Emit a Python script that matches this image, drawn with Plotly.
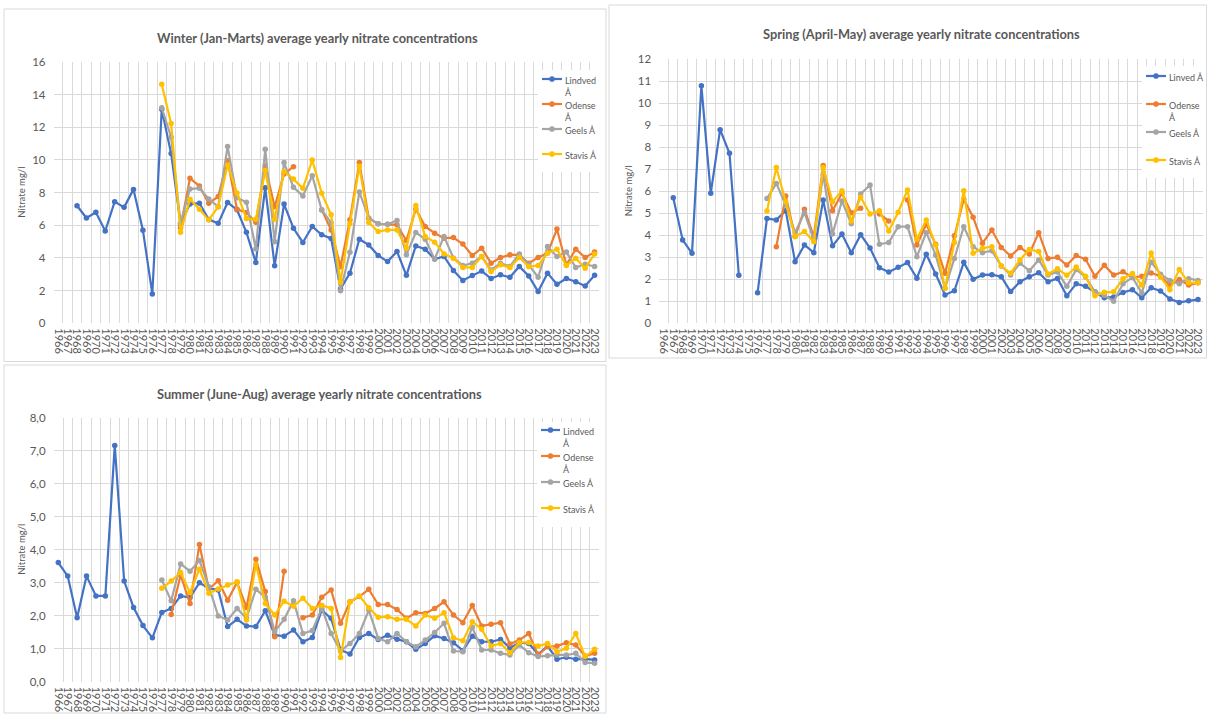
import plotly.graph_objects as go

W, H = 1208, 715
years = list(range(1966, 2024))
N = None

# ---------------- Winter (Jan-Marts) ----------------
winter_lindved = [N, N, 7.2, 6.45, 6.8, 5.65, 7.45, 7.1, 8.2, 5.7,
                  1.8, 13.1, 10.4, 6.1, 7.3, 7.35, 6.35, 6.12, 7.4, 6.95,
                  5.57, 3.73, 8.3, 3.53, 7.3, 5.82, 4.95, 5.93, 5.42, 5.2,
                  2.1, 3.07, 5.15, 4.8, 4.15, 3.78, 4.4, 2.94, 4.74, 4.54,
                  3.93, 4.09, 3.23, 2.62, 2.92, 3.2, 2.74, 2.97, 2.82, 3.48,
                  2.9, 1.94, 3.07, 2.39, 2.74, 2.54, 2.29, 2.94]
winter_odense = [N, N, N, N, N, N, N, N, N, N,
                 N, N, N, 5.85, 8.88, 8.41, 7.35, 7.76, 9.96, 6.98,
                 6.78, 6.18, 9.63, 7.14, 9.14, 9.59, N, N, 6.95, 5.72,
                 3.47, 6.34, 9.85, 6.44, 6.09, 6.07, 6.03, 5.07, 6.99, 5.93,
                 5.52, 5.21, 5.25, 4.85, 4.15, 4.6, 3.68, 4.03, 4.19, 4.19,
                 3.68, 4.03, 4.3, 5.77, 3.58, 4.54, 4.03, 4.36]
winter_geels = [N, N, N, N, N, N, N, N, N, N,
                N, 13.2, 11.39, 6.12, 8.22, 8.27, 7.61, 7.14, 10.82, 7.69,
                7.41, 4.55, 10.65, 5.0, 9.84, 8.33, 7.8, 9.04, 6.94, 6.16,
                2.0, 4.35, 8.04, 6.44, 6.09, 6.07, 6.3, 4.19, 5.56, 5.15,
                3.93, 5.32, 3.99, 3.54, 3.68, 4.09, 3.27, 3.68, 3.48, 4.25,
                3.58, 2.82, 4.7, 4.09, 4.36, 3.42, 3.62, 3.48]
winter_stavis = [N, N, N, N, N, N, N, N, N, N,
                 N, 14.63, 12.24, 5.57, 7.59, 6.98, 6.33, 7.14, 9.69, 7.98,
                 6.41, 6.37, 9.35, 6.37, 9.3, 8.83, 8.27, 10.0, 7.97, 6.64,
                 2.52, 6.09, 9.61, 6.17, 5.62, 5.72, 5.72, 4.6, 7.21, 5.32,
                 4.97, 4.25, 3.99, 3.42, 3.42, 4.09, 3.17, 3.58, 3.42, 4.03,
                 3.48, 3.54, 4.3, 4.54, 3.54, 3.99, 3.37, 4.25]

# ---------------- Spring (April-May) ----------------
spring_lindved = [N, 5.71, 3.79, 3.18, 10.8, 5.91, 8.8, 7.73, 2.18, N,
                  1.39, 4.76, 4.7, 5.12, 2.8, 3.56, 3.21, 5.6, 3.52, 4.06,
                  3.21, 4.03, 3.42, 2.53, 2.33, 2.55, 2.76, 2.05, 3.14, 2.24,
                  1.29, 1.48, 2.77, 2.0, 2.2, 2.21, 2.12, 1.44, 1.89, 2.12,
                  2.3, 1.89, 2.04, 1.25, 1.8, 1.68, 1.43, 1.16, 1.2, 1.4,
                  1.53, 1.16, 1.62, 1.47, 1.1, 0.95, 1.02, 1.08]
spring_odense = [N, N, N, N, N, N, N, N, N, N,
                 N, N, 3.48, 5.79, 3.94, 5.18, 3.94, 7.17, 5.12, 5.91,
                 5.03, 5.23, N, 4.97, 4.65, N, 5.61, 3.56, 4.5, 3.59,
                 2.27, 3.98, 5.64, 4.82, 3.64, 4.24, 3.45, 3.06, 3.45, 3.15,
                 4.12, 2.95, 3.0, 2.65, 3.08, 2.91, 2.14, 2.64, 2.19, 2.34,
                 2.08, 2.14, 2.29, 2.14, 1.74, 1.99, 1.74, 1.84]
spring_geels = [N, N, N, N, N, N, N, N, N, N,
                N, 5.67, 6.36, 5.38, 4.12, 5.03, 3.79, 6.77, 4.06, 5.56,
                4.52, 5.88, 6.29, 3.59, 3.67, 4.39, 4.39, 3.03, 4.12, 3.11,
                1.59, 2.95, 4.39, 3.48, 3.21, 3.3, 2.61, 2.2, 2.73, 2.39,
                2.88, 2.2, 2.33, 1.68, 2.44, 2.11, 1.43, 1.28, 1.0, 1.8,
                2.08, 1.38, 2.78, 2.23, 1.95, 1.8, 2.03, 1.95]
spring_stavis = [N, N, N, N, N, N, N, N, N, N,
                 N, 5.11, 7.08, 5.53, 3.94, 4.17, 3.71, 7.08, 5.53, 6.02,
                 4.65, 5.73, 4.97, 5.12, 4.2, 5.05, 6.06, 3.82, 4.7, 3.56,
                 1.59, 3.67, 6.03, 3.18, 3.41, 3.48, 2.61, 2.27, 2.88, 3.36,
                 3.26, 2.24, 2.48, 2.18, 2.56, 2.14, 1.25, 1.41, 1.43, 2.03,
                 2.26, 1.74, 3.19, 2.11, 1.53, 2.44, 1.84, 1.84]

# ---------------- Summer (June-Aug) ----------------
summer_lindved = [3.61, 3.2, 1.94, 3.2, 2.6, 2.6, 7.16, 3.05, 2.25, 1.7,
                  1.33, 2.1, 2.22, 2.6, 2.55, 3.0, 2.83, 2.78, 1.67, 1.89,
                  1.69, 1.67, 2.15, 1.41, 1.38, 1.57, 1.21, 1.34, 2.17, 1.92,
                  0.96, 0.84, 1.34, 1.46, 1.28, 1.41, 1.29, 1.21, 0.98, 1.16,
                  1.39, 1.31, 1.18, 0.94, 1.38, 1.21, 1.21, 1.28, 1.03, 1.18,
                  1.16, 0.83, 1.08, 0.68, 0.74, 0.68, 0.69, 0.66]
summer_odense = [N, N, N, N, N, N, N, N, N, N,
                 N, N, 2.04, 3.23, 2.37, 4.16, 2.81, 3.06, 2.47, 3.01,
                 2.25, 3.71, 2.73, 1.36, 3.35, N, 1.94, 2.02, 2.56, 2.78,
                 1.77, 2.42, 2.58, 2.8, 2.34, 2.34, 2.19, 1.92, 2.09, 2.07,
                 2.22, 2.42, 2.02, 1.79, 2.31, 1.69, 1.74, 1.79, 1.14, 1.26,
                 1.46, 0.81, 1.06, 1.08, 1.18, 1.11, 0.78, 0.86]
summer_geels = [N, N, N, N, N, N, N, N, N, N,
                N, 3.08, 2.45, 3.57, 3.35, 3.67, 2.88, 1.99, 1.87, 2.22,
                1.92, 2.8, 2.56, 1.52, 1.89, 2.45, 1.46, 1.55, 2.22, 1.46,
                0.93, 1.16, 1.46, 2.17, 1.31, 1.21, 1.46, 1.21, 1.06, 1.26,
                1.49, 1.77, 0.93, 0.91, 1.65, 0.96, 0.96, 0.86, 0.81, 1.11,
                0.88, 0.76, 0.79, 0.81, 0.81, 0.86, 0.58, 0.56]
summer_stavis = [N, N, N, N, N, N, N, N, N, N,
                 N, 2.83, 3.05, 3.31, 2.7, 3.41, 2.68, 2.81, 2.93, 3.03,
                 1.87, 3.56, 2.37, 2.02, 2.44, 2.29, 2.53, 2.22, 2.32, 2.22,
                 0.73, 2.42, 2.6, 2.24, 1.95, 1.97, 1.89, 1.89, 1.69, 2.02,
                 1.92, 2.09, 1.33, 1.24, 1.82, 1.59, 1.08, 1.16, 0.88, 1.19,
                 1.19, 1.08, 1.16, 0.91, 1.01, 1.46, 0.76, 0.98]

winter_names = ["Lindved<br>Å", "Odense<br>Å", "Geels Å", "Stavis Å"]
spring_names = ["Linved Å", "Odense<br>Å", "Geels Å", "Stavis Å"]
summer_names = ["Lindved<br>Å", "Odense<br>Å", "Geels Å", "Stavis Å"]

winter_ticks = [0, 2, 4, 6, 8, 10, 12, 14, 16]
spring_ticks = list(range(0, 13))
summer_ticks = [0, 1, 2, 3, 4, 5, 6, 7, 8]
summer_ticktext = ["0,0", "1,0", "2,0", "3,0", "4,0", "5,0", "6,0", "7,0", "8,0"]

titles = ["Winter (Jan-Marts) average yearly nitrate concentrations",
          "Spring (April-May) average yearly nitrate concentrations",
          "Summer (June-Aug) average yearly nitrate concentrations"]
ytitle = "Nitrate mg/l"

colors = ["#4472C4", "#ED7D31", "#A5A5A5", "#FFC000"]
TXT = "#595959"
GRID = "#D9D9D9"
FONT = "Lato"

def px(x):
    return x / W

def py(y):
    return 1 - y / H

fig = go.Figure()

panels = [
    dict(ax="", series=[winter_lindved, winter_odense, winter_geels, winter_stavis],
         names=winter_names, xdom=(53.5, 599.3), ydom=(62, 323.3),
         ticks=winter_ticks, ticktext=[str(t) for t in winter_ticks], yr=[0, 16],
         title=titles[0], tx=317, ty=37.5, ytx=22,
         box=(538, 70, 600, 172), lx=(542, 562), tx0=563, rows=[79, 104, 129, 154],
         border=(4, 9, 606, 361.5)),
    dict(ax="2", series=[spring_lindved, spring_odense, spring_geels, spring_stavis],
         names=spring_names, xdom=(659.2, 1202.7), ydom=(59.3, 323.3),
         ticks=spring_ticks, ticktext=[str(t) for t in spring_ticks], yr=[0, 12],
         title=titles[1], tx=921, ty=34, ytx=628,
         box=(1142, 66, 1205, 178), lx=(1146, 1166), tx0=1167, rows=[76, 104, 132, 160],
         border=(609, 5, 1206.5, 358)),
    dict(ax="3", series=[summer_lindved, summer_odense, summer_geels, summer_stavis],
         names=summer_names, xdom=(53.6, 599.3), ydom=(417.7, 681.7),
         ticks=summer_ticks, ticktext=summer_ticktext, yr=[0, 8],
         title=titles[2], tx=319, ty=393.5, ytx=22,
         box=(537, 422, 599, 527), lx=(541, 560), tx0=561, rows=[430, 456, 482, 508],
         border=(4, 365, 606, 713)),
]

shapes = []
annotations = []
minor_vals = [y - 0.5 for y in years] + [years[-1] + 0.5]

for p in panels:
    ax = p["ax"]
    xa = "x" + ax
    ya = "y" + ax
    for vals, name, col in zip(p["series"], p["names"], colors):
        fig.add_trace(go.Scatter(
            x=years, y=vals, mode="lines+markers", name=name.replace("<br>", " "),
            xaxis=xa, yaxis=ya, connectgaps=False, showlegend=False,
            line=dict(color=col, width=2.2),
            marker=dict(color=col, size=5.5, symbol="circle"),
        ))
    fig.update_layout(**{
        "xaxis" + ax: dict(
            domain=[px(p["xdom"][0]), px(p["xdom"][1])], anchor=ya,
            range=[years[0] - 0.5, years[-1] + 0.5], automargin=False,
            tickmode="array", tickvals=years, ticktext=[str(y) for y in years],
            tickangle=90, showgrid=False, zeroline=False, showline=False,
            ticks="", ticklabelstandoff=4,
            tickfont=dict(family=FONT, size=11, color=TXT),
            minor=dict(tickmode="array", tickvals=minor_vals, showgrid=True,
                       gridcolor=GRID, gridwidth=1, ticks=""),
        ),
        "yaxis" + ax: dict(
            domain=[py(p["ydom"][1]), py(p["ydom"][0])], anchor=xa,
            range=p["yr"], automargin=False,
            tickmode="array", tickvals=p["ticks"], ticktext=p["ticktext"],
            showgrid=True, gridcolor=GRID, gridwidth=1, zeroline=False, showline=False,
            ticks="", ticklabelstandoff=7,
            tickfont=dict(family=FONT, size=11.5, color=TXT),
        ),
    })
    # panel border
    bx0, by0, bx1, by1 = p["border"]
    shapes.append(dict(type="rect", xref="paper", yref="paper",
                       x0=px(bx0), x1=px(bx1), y0=py(by1), y1=py(by0),
                       line=dict(color=GRID, width=1), fillcolor="rgba(0,0,0,0)", layer="below"))
    # title
    annotations.append(dict(text="<b>" + p["title"] + "</b>", xref="paper", yref="paper",
                            x=px(p["tx"]), y=py(p["ty"]), xanchor="center", yanchor="middle",
                            showarrow=False, font=dict(family=FONT, size=12.8, color=TXT)))
    # y-axis title
    yc = (p["ydom"][0] + p["ydom"][1]) / 2
    annotations.append(dict(text=ytitle, xref="paper", yref="paper", textangle=-90,
                            x=px(p["ytx"]), y=py(yc), xanchor="center", yanchor="middle",
                            showarrow=False, font=dict(family=FONT, size=9.5, color=TXT)))
    # legend box
    lbx0, lby0, lbx1, lby1 = p["box"]
    shapes.append(dict(type="rect", xref="paper", yref="paper",
                       x0=px(lbx0), x1=px(lbx1), y0=py(lby1), y1=py(lby0),
                       line=dict(width=0), fillcolor="white", layer="above"))
    for name, col, ry in zip(p["names"], colors, p["rows"]):
        shapes.append(dict(type="line", xref="paper", yref="paper",
                           x0=px(p["lx"][0]), x1=px(p["lx"][1]), y0=py(ry), y1=py(ry),
                           line=dict(color=col, width=2.2), layer="above"))
        cx = (p["lx"][0] + p["lx"][1]) / 2
        shapes.append(dict(type="circle", xref="paper", yref="paper",
                           x0=px(cx - 2.6), x1=px(cx + 2.6), y0=py(ry + 2.6), y1=py(ry - 2.6),
                           line=dict(color=col, width=0.5), fillcolor=col, layer="above"))
        annotations.append(dict(text=name, xref="paper", yref="paper",
                                x=px(p["tx0"]), y=py(ry - 6), xanchor="left", yanchor="top",
                                align="left", showarrow=False,
                                font=dict(family=FONT, size=9, color=TXT)))

fig.update_layout(
    width=W, height=H, autosize=False,
    margin=dict(l=0, r=0, t=0, b=0, pad=0, autoexpand=False),
    paper_bgcolor="white", plot_bgcolor="white",
    shapes=shapes, annotations=annotations, showlegend=False,
    font=dict(family=FONT, color=TXT),
)

fig.write_html(
    "out.html",
    config={"displayModeBar": False, "responsive": False},
    post_script="document.body.style.margin='0';document.body.style.padding='0';"
                "document.body.style.overflow='hidden';",
)
